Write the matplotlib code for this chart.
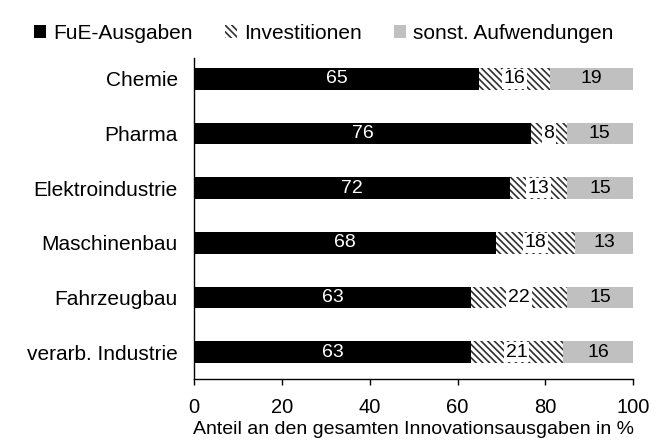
import numpy as np
import matplotlib
matplotlib.use("Agg")
import matplotlib.pyplot as plt

plt.rcParams['font.family'] = ['Liberation Sans', 'DejaVu Sans']
plt.rcParams['hatch.linewidth'] = 1.2
plt.rcParams['hatch.color'] = '#303030'

branchen = ["Chemie", "Pharma", "Elektroindustrie", "Maschinenbau",
            "Fahrzeugbau", "verarb. Industrie"]
fue = [65, 76, 72, 68, 63, 63]
invest = [16, 8, 13, 18, 22, 21]
sonst = [19, 15, 15, 13, 15, 16]

# 100%-gestapelt wie im Excel-Original
werte = np.array([fue, invest, sonst], dtype=float)
anteile = werte / werte.sum(axis=0) * 100

fig = plt.figure(figsize=(6.67, 4.48), dpi=100)
ax = fig.add_axes([0.2913, 0.154, 0.949 - 0.2913, 0.8705 - 0.154])

y = np.arange(len(branchen))[::-1]
h = 0.4
links = np.zeros(len(branchen))

b1 = ax.barh(y, anteile[0], h, left=links, color="black", linewidth=0,
             label="FuE-Ausgaben")
links = links + anteile[0]
b2 = ax.barh(y, anteile[1], h, left=links, color="white", hatch="\\\\\\\\\\",
             linewidth=0, label="Investitionen")
links = links + anteile[1]
b3 = ax.barh(y, anteile[2], h, left=links, color="#c0c0c0", linewidth=0,
             label="sonst. Aufwendungen")

for i in range(len(branchen)):
    x0 = 0
    ax.text(x0 + anteile[0][i] / 2, y[i], str(fue[i]), color="white",
            ha="center", va="center", fontsize=14)
    x0 += anteile[0][i]
    ax.text(x0 + anteile[1][i] / 2, y[i], str(invest[i]), color="black",
            ha="center", va="center", fontsize=14,
            bbox=dict(facecolor="white", edgecolor="none", pad=1.2))
    x0 += anteile[1][i]
    ax.text(x0 + anteile[2][i] / 2, y[i], str(sonst[i]), color="black",
            ha="center", va="center", fontsize=14)

ax.set_xlim(0, 100)
ax.set_ylim(-0.49, 5.38)
ax.set_xticks([0, 20, 40, 60, 80, 100])
ax.set_yticks(y)
ax.set_yticklabels(branchen)
ax.tick_params(axis="y", length=0, pad=12, labelsize=15)
ax.tick_params(axis="x", direction="out", length=4.5, width=1, pad=9,
               labelsize=14.5)
ax.spines["top"].set_visible(False)
ax.spines["right"].set_visible(False)
ax.spines["left"].set_linewidth(1)
ax.spines["bottom"].set_linewidth(1)
ax.set_xlabel("Anteil an den gesamten Innovationsausgaben in %", fontsize=14,
              labelpad=3)

fig.legend(handles=[b1, b2, b3], loc="center left",
           bbox_to_anchor=(0.051, 0.926), ncol=3, frameon=False,
           fontsize=15, handlelength=0.57, handleheight=0.57,
           handletextpad=0.35, columnspacing=1.55, borderpad=0,
           borderaxespad=0)

fig.savefig("out.png", dpi=100)
